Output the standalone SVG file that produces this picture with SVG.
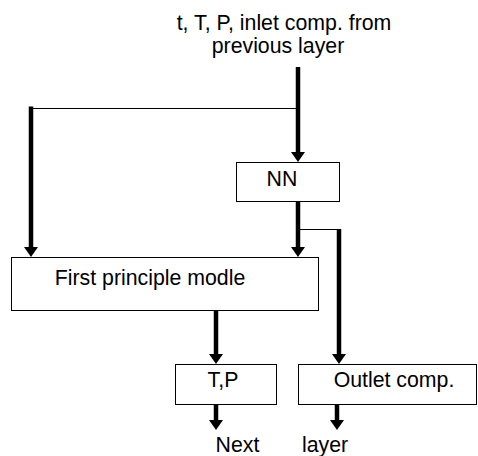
<svg xmlns="http://www.w3.org/2000/svg" width="478" height="456" viewBox="0 0 478 456">
  <defs>
    <style>
      .box { fill: #fff; stroke: #000; stroke-width: 1; }
      .label { font-family: "Liberation Sans", Arial, sans-serif; font-size: 21.3px; fill: #000; }
      .flow { stroke: #000; stroke-width: 4.5; fill: none; }
      .tie { stroke: #000; stroke-width: 1; fill: none; }
    </style>
    <marker id="head" markerUnits="userSpaceOnUse" markerWidth="12" markerHeight="14" refX="0" refY="0" orient="auto" overflow="visible">
      <path d="M0,-7 L10,0 L0,7 Z" fill="#000"/>
    </marker>
  </defs>

  <rect width="478" height="456" fill="#fff"/>

  <!-- input caption -->
  <g id="input">
    <text class="label" x="284" y="29.5" text-anchor="middle">t, T, P, inlet comp. from</text>
    <text class="label" x="278" y="52.5" text-anchor="middle">previous layer</text>
  </g>

  <!-- connectors -->
  <g id="connectors">
    <line class="flow" x1="298" y1="67" x2="298" y2="152" marker-end="url(#head)"/>
    <line class="tie" x1="31" y1="108.5" x2="298" y2="108.5"/>
    <line class="flow" x1="31" y1="106.5" x2="31" y2="247" marker-end="url(#head)"/>
    <line class="flow" x1="298" y1="202" x2="298" y2="247" marker-end="url(#head)"/>
    <line class="tie" x1="298" y1="229.5" x2="339" y2="229.5"/>
    <line class="flow" x1="339" y1="229" x2="339" y2="354" marker-end="url(#head)"/>
    <line class="flow" x1="216" y1="310" x2="216" y2="354" marker-end="url(#head)"/>
    <line class="flow" x1="216" y1="405" x2="216" y2="420" marker-end="url(#head)"/>
    <line class="flow" x1="337" y1="405" x2="337" y2="420" marker-end="url(#head)"/>
  </g>

  <g id="nn">
    <rect class="box" x="236.5" y="162.5" width="103" height="39"/>
    <text class="label" x="282" y="186" text-anchor="middle">NN</text>
  </g>

  <g id="first-principle">
    <rect class="box" x="11.5" y="257.5" width="307" height="53"/>
    <text class="label" x="150" y="285" text-anchor="middle">First principle modle</text>
  </g>

  <g id="tp">
    <rect class="box" x="175.5" y="364.5" width="101" height="40"/>
    <text class="label" x="223" y="387" text-anchor="middle">T,P</text>
  </g>

  <g id="outlet">
    <rect class="box" x="298.5" y="364.5" width="178" height="40"/>
    <text class="label" x="394" y="387" text-anchor="middle">Outlet comp.</text>
  </g>

  <g id="output">
    <text class="label" x="237.5" y="452" text-anchor="middle">Next</text>
    <text class="label" x="325" y="452" text-anchor="middle">layer</text>
  </g>
</svg>
